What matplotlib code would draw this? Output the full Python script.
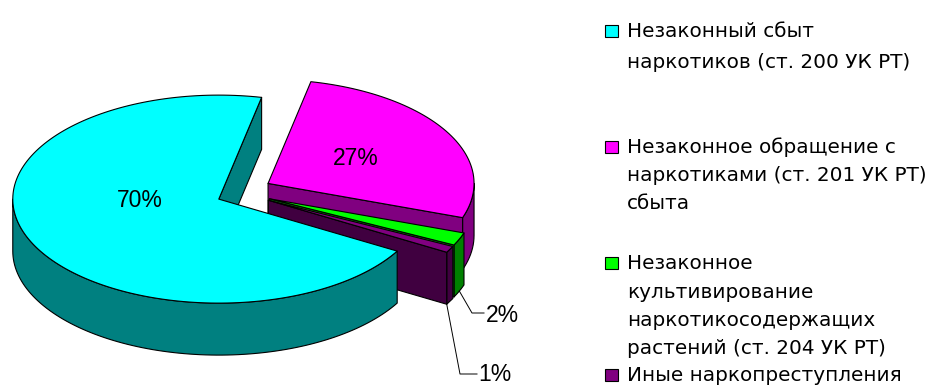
import numpy as np
import matplotlib.pyplot as plt
from matplotlib.patches import Polygon, Rectangle

# structure of drug crimes, %
shares = [70, 27, 2, 1]
pct_labels = ["70%", "27%", "2%", "1%"]
legend_lines = [
    ["Незаконный сбыт", "наркотиков (ст. 200 УК РТ)"],
    ["Незаконное обращение с", "наркотиками (ст. 201 УК РТ)", "сбыта"],
    ["Незаконное", "культивирование", "наркотикосодержащих", "растений (ст. 204 УК РТ)"],
    ["Иные наркопреступления"],
]
top_colors = ["#00FFFF", "#FF00FF", "#00FF00", "#800080"]
side_colors = ["#008080", "#800080", "#008000", "#400040"]

# pie geometry in pixels
cx, cy = 244, 192
rx, ry = 206, 104
depth = 52
start = 330.0          # first slice starts here and goes clockwise
ex, ey = 0.134, 0.168  # explode amount
lw = 0.8

fig = plt.figure(figsize=(9.32, 3.87), dpi=100)
ax = fig.add_axes([0, 0, 1, 1])
ax.set_xlim(0, 932)
ax.set_ylim(387, 0)
ax.axis("off")


def rim(tx, ty, a, down=0.0):
    r = np.radians(a)
    return tx + rx * np.cos(r), ty - ry * np.sin(r) + down


def arc(tx, ty, a0, a1, down=0.0):
    n = max(int(abs(a1 - a0) / 1.5), 2)
    aa = np.linspace(a0, a1, n)
    return [rim(tx, ty, a, down) for a in aa]


# slice angle ranges (counterclockwise lo..hi)
slices = []
hi = start
for i, s in enumerate(shares):
    lo = hi - s / sum(shares) * 360
    mid = (lo + hi) / 2
    r = np.radians(mid)
    tx = cx + ex * rx * np.cos(r)
    ty = cy - ey * ry * np.sin(r)
    slices.append(dict(i=i, lo=lo, hi=hi, mid=mid, tx=tx, ty=ty))
    hi = lo


def front_ranges(lo, hi):
    out = []
    for k in range(-2, 3):
        a = max(lo, 180 + 360 * k)
        b = min(hi, 360 + 360 * k)
        if b > a:
            out.append((a, b))
    return out


def lowest(sl):
    ys = [p[1] for p in arc(sl["tx"], sl["ty"], sl["lo"], sl["hi"], depth)]
    return max(ys + [sl["ty"] + depth])


# back slices first
for sl in sorted(slices, key=lowest):
    i, tx, ty, lo, hi = sl["i"], sl["tx"], sl["ty"], sl["lo"], sl["hi"]
    kw = dict(edgecolor="black", linewidth=lw, joinstyle="round")
    # outer wall
    for a, b in front_ranges(lo, hi):
        pts = arc(tx, ty, a, b) + arc(tx, ty, b, a, depth)
        ax.add_patch(Polygon(pts, closed=True, facecolor=side_colors[i], **kw))
    # cut faces turned to the viewer
    for a, show in ((lo, np.cos(np.radians(lo)) > 0), (hi, np.cos(np.radians(hi)) < 0)):
        if show:
            p = rim(tx, ty, a)
            q = rim(tx, ty, a, depth)
            pts = [(tx, ty), p, q, (tx, ty + depth)]
            ax.add_patch(Polygon(pts, closed=True, facecolor=side_colors[i], **kw))
    # top face
    pts = [(tx, ty)] + arc(tx, ty, lo, hi)
    ax.add_patch(Polygon(pts, closed=True, facecolor=top_colors[i], **kw))

pct_font = ["Liberation Sans", "DejaVu Sans"]
pct_size = 16.5
ax.text(139.5, 207, pct_labels[0], ha="center", va="baseline", fontsize=pct_size, family=pct_font)
ax.text(356, 165, pct_labels[1], ha="center", va="baseline", fontsize=pct_size, family=pct_font)

# leader lines for the small slices
g = slices[2]
gx, gy = rim(g["tx"], g["ty"], g["mid"], depth)
ax.plot([gx, 472, 484], [gy, 313, 313], color="black", lw=0.7)
ax.text(486, 322, pct_labels[2], ha="left", va="baseline", fontsize=pct_size, family=pct_font)
p = slices[3]
px, py = rim(p["tx"], p["ty"], p["lo"], depth)
ax.plot([px, 460, 477], [py, 374, 374], color="black", lw=0.7)
ax.text(478, 381, pct_labels[3], ha="left", va="baseline", fontsize=pct_size, family=pct_font)

# legend
baselines = [[37, 68], [153, 181, 209], [269, 298, 326, 354], [381]]
leg_font = ["DejaVu Sans"]
for i, lines in enumerate(legend_lines):
    y0 = baselines[i][0]
    ax.add_patch(Rectangle((605, y0 - 12.5), 12.5, 12.5, facecolor=top_colors[i],
                           edgecolor="black", linewidth=lw))
    for txt, y in zip(lines, baselines[i]):
        ax.text(627, y, txt, ha="left", va="baseline", fontsize=14.4, family=leg_font)

fig.savefig("out.png", dpi=100)
